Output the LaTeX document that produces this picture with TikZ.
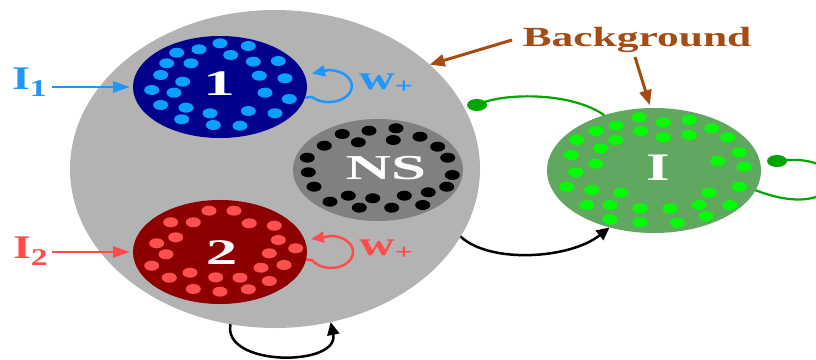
\documentclass[tikz,border=0pt]{standalone}
\usepackage{fontspec}
\setmainfont{Liberation Serif}
\usetikzlibrary{shapes.geometric,arrows.meta}
\definecolor{bggray}{RGB}{179,179,179}
\definecolor{popblue}{RGB}{0,0,140}
\definecolor{dotblue}{RGB}{10,160,255}
\definecolor{labblue}{RGB}{30,150,255}
\definecolor{popred}{RGB}{140,0,0}
\definecolor{dotred}{RGB}{255,80,80}
\definecolor{labred}{RGB}{255,75,75}
\definecolor{nsgray}{RGB}{128,128,128}
\definecolor{popgreen}{RGB}{96,168,96}
\definecolor{dotgreen}{RGB}{0,255,0}
\definecolor{inhgreen}{RGB}{0,165,0}
\definecolor{brownc}{RGB}{165,75,20}
\newcommand{\hsc}[2]{\scalebox{#1}[1]{#2}}
\begin{document}
\begin{tikzpicture}[x=1pt,y=1pt,
  pop/.style={ellipse, inner sep=0pt, outer sep=0pt},
  lab/.style={inner sep=0pt, font=\bfseries},
  dotmark/.style={x radius=7.5, y radius=5},
  inputarrow/.style={line width=2.5pt, -{Triangle[length=17pt,width=11pt]}},
  looparrow/.style={line width=2.5pt, -{Triangle[length=13pt,width=11pt]}},
  blackarrow/.style={black, line width=2.5pt, -{Triangle[length=13pt,width=12pt]}},
  brownarrow/.style={brownc, line width=3pt, -{Triangle[length=15pt,width=12pt]}},
  inhline/.style={inhgreen, line width=2.2pt}
]
\useasboundingbox (0,0) rectangle (816,359);
\clip (0,0) rectangle (816,359);

% populations
\node[pop, fill=bggray, minimum width=410pt, minimum height=318pt] (bg) at (275,190) {};
\node[pop, fill=popblue, minimum width=174pt, minimum height=102pt] (p1) at (220,272) {};
\node[pop, fill=popred, minimum width=174pt, minimum height=104pt] (p2) at (220,107) {};
\node[pop, fill=nsgray, minimum width=170pt, minimum height=102pt] (ns) at (378,189) {};
\node[pop, fill=popgreen, minimum width=214pt, minimum height=125pt] (inh) at (654,188.5) {};

% dots
\foreach \x/\y in {220/43.3,248.3/46,199/49.3,176.7/52.7,230.7/55,253.3/61.7,278.3/61,166.7/63.3,191/63.3,160.7/75,259.3/75.7,285/78.3,182.7/81.7,151.7/90,174/92.7,265/92.7,289.3/99,160.7/105,186/107.7,210/113.3,248.3/111,275/113.3,181.7/119.3,213.3/125,240/125.7}
  \fill[dotblue] (\x,{359-\y}) ellipse[dotmark];
\foreach \x/\y in {209/210.7,234/210.7,170.7/222.3,193.3/222.3,249.3/223.3,274.3/225.7,175.7/237.3,156.7/243.3,278.3/240,295.7/248.3,166/254.3,269.3/253.3,151.7/265.7,261/267.7,284/265,190/272.7,169.3/277.7,215.7/277.3,240/277.7,269.3/281,193.3/289,220/291.7,248.3/289.3}
  \fill[dotred] (\x,{359-\y}) ellipse[dotmark];
\foreach \x/\y in {369/130.7,396/128.3,342.3/134,358.3/142.3,393.3/140,420/136.7,324.3/145.7,437.7/146.7,307.3/157.7,447.7/157.7,308.3/172.3,452.3/175,314/186.7,446.7/186.7,348.3/195.7,372.7/198.3,404.3/195.7,428.3/192.3,330/201.7,359.3/207.7,391.7/207.7,422.7/205}
  \fill[black] (\x,{359-\y}) ellipse[dotmark];
\foreach \x/\y in {639/117.3,663.3/122.3,689.3/120,616/125.7,596/131,640.7/131,711.7/128.3,576.7/140,615.7/140,663.3/137.3,689.3/135,727.7/137.3,600.7/148.3,571/155,739.3/152.3,717.7/161,595.7/163.7,744/166.7,575.7/172.3,566.7/186.7,591.7/190,739.3/186.7,620.7/192.7,709/192.7,586.7/205,610/205,640/208.3,670/208.3,699/205,730/205,610/219.3,640/222.3,677.3/222.7,706/216}
  \fill[dotgreen] (\x,{359-\y}) ellipse[dotmark];

% labels
\node[lab, white, anchor=base] (t1) at (219,263) {\hsc{1.75}{\fontsize{36}{36}\selectfont 1}};
\node[lab, white, anchor=base] (t2) at (221.7,95) {\hsc{1.75}{\fontsize{36}{36}\selectfont 2}};
\node[lab, white, anchor=base] (tns) at (385.8,179) {\hsc{1.8}{\fontsize{35}{35}\selectfont NS}};
\node[lab, white, anchor=base] (ti) at (658,178) {\hsc{1.55}{\fontsize{39}{39}\selectfont I}};
\node[lab, brownc, anchor=base] (bgl) at (637,312) {\hsc{1.57}{\fontsize{27.7}{27.7}\selectfont Background}};
\node[lab, labblue, anchor=base east] (i1) at (47,269) {\hsc{1.4}{\fontsize{33}{33}\selectfont I\raisebox{-7pt}{\fontsize{24}{24}\selectfont 1}}};
\node[lab, labred, anchor=base east] (i2) at (48,101) {\hsc{1.4}{\fontsize{33}{33}\selectfont I\raisebox{-7pt}{\fontsize{24}{24}\selectfont 2}}};
\node[lab, labblue, anchor=base west] (w1) at (359,269) {\hsc{1.45}{\fontsize{34}{34}\selectfont w\raisebox{-4pt}{\fontsize{22}{22}\selectfont +}}};
\node[lab, labred, anchor=base west] (w2) at (359,104) {\hsc{1.45}{\fontsize{34}{34}\selectfont w\raisebox{-4pt}{\fontsize{22}{22}\selectfont +}}};

% named free ends
\coordinate (b1) at (512,319);
\coordinate (b2) at (635,302);
\coordinate (gd1) at (477,254);
\coordinate (gd2) at (777,198);

% external inputs
\draw[inputarrow, labblue, shorten <=5pt, shorten >=3pt] (i1.east |- p1.west) -- (p1.west);
\draw[inputarrow, labred, shorten <=4pt, shorten >=3pt] (i2.east |- p2.west) -- (p2.west);

% recurrent loops
\draw[looparrow, labblue] (p1.-7) -- (312,262) arc[start angle=223, end angle=450, x radius=23, y radius=16] -- (312,285.5);
\draw[looparrow, labred] (p2.-5) -- (312,99) arc[start angle=210, end angle=450, x radius=22, y radius=16] -- (311,120);

% background arrows
\draw[brownarrow] (b1) -- (bg.34.6);
\draw[brownarrow, shorten >=3pt] (b2) -- (inh.93);

% excitatory connections
\draw[blackarrow] (bg.-20.4) .. controls (490,95) and (570,100) .. (inh.232);
\draw[blackarrow] (bg.-106.4) .. controls (222,-8) and (340,-8) .. (bg.-70);

% inhibitory connections
\draw[inhline] (gd1) .. controls (500,266) and (570,268) .. (inh.132);
\fill[inhgreen] (gd1) ellipse[x radius=10, y radius=6];
\draw[inhline] (gd2) .. controls (860,209) and (845,134) .. (inh.-11);
\fill[inhgreen] (gd2) ellipse[x radius=10, y radius=6];
\end{tikzpicture}
\end{document}
